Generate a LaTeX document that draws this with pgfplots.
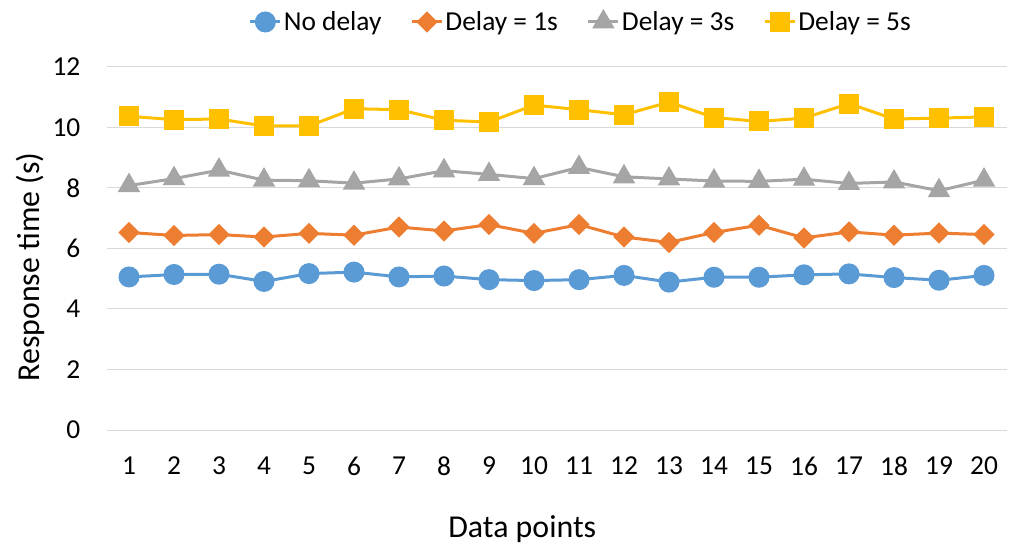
\documentclass[border=0pt]{standalone}
\usepackage{fontspec}
\setmainfont{Carlito}
\usepackage{pgfplots}
\pgfplotsset{compat=1.18}
\definecolor{cblue}{HTML}{5B9BD5}
\definecolor{corange}{HTML}{ED7D31}
\definecolor{cgray}{HTML}{A5A5A5}
\definecolor{cyellow}{HTML}{FFC000}
\definecolor{gridc}{HTML}{D9D9D9}
\begin{document}
\begin{tikzpicture}
\useasboundingbox (0,0) rectangle (1011bp,544bp);
\begin{axis}[
  at={(106.5bp,114bp)}, anchor=south west,
  scale only axis, width=900bp, height=363bp,
  xmin=0.5, xmax=20.5, ymin=0, ymax=12,
  xtick={1,...,20}, ytick={0,2,...,12},
  ymajorgrids, grid style={draw=gridc, line width=1bp},
  axis line style={draw=none}, tick style={draw=none},
  /pgf/number format/assume math mode=true,
  tick label style={font=\fontsize{27.5}{30}\selectfont, inner sep=0pt},
  yticklabel style={anchor=east, xshift=-26bp},
  xticklabel style={anchor=north, yshift=-27bp},
  label style={font=\fontsize{32}{36}\selectfont},
  xlabel={Data points},
  ylabel={Response time (s)},
  xlabel style={at={(axis description cs:0.462,-0.295)}, anchor=base},
  ylabel style={at={(axis description cs:-0.085,0.449)}, anchor=center},
  every axis plot/.append style={line width=3bp},
  legend columns=4,
  legend style={at={(axis description cs:0.527,1.124)}, anchor=center,
    draw=none, fill=none, font=\fontsize{27.5}{30}\selectfont,
    /tikz/every even column/.append style={column sep=27bp}},
  legend image code/.code={\draw[mark repeat=2,mark phase=2,#1] plot coordinates {(0bp,0bp) (15bp,0bp) (30bp,0bp)};},
]
\addplot[color=cblue, mark=*, mark size=9bp, mark options={draw=none, fill=cblue}] coordinates {
(1,5.06) (2,5.14) (3,5.15) (4,4.91) (5,5.17) (6,5.22) (7,5.06) (8,5.09) (9,4.97) (10,4.94)
(11,4.97) (12,5.11) (13,4.89) (14,5.05) (15,5.05) (16,5.13) (17,5.16) (18,5.04) (19,4.95) (20,5.11)};
\addlegendentry{No delay}
\addplot[color=corange, mark=square*, mark size=6bp, mark options={draw=none, fill=corange, rotate=45}] coordinates {
(1,6.53) (2,6.43) (3,6.46) (4,6.38) (5,6.50) (6,6.44) (7,6.71) (8,6.58) (9,6.79) (10,6.50)
(11,6.79) (12,6.38) (13,6.20) (14,6.53) (15,6.77) (16,6.35) (17,6.55) (18,6.44) (19,6.51) (20,6.46)};
\addlegendentry{Delay = 1s}
\addplot[color=cgray, mark=triangle*, mark size=10bp, mark options={draw=none, fill=cgray}] coordinates {
(1,8.08) (2,8.31) (3,8.59) (4,8.26) (5,8.24) (6,8.16) (7,8.30) (8,8.57) (9,8.45) (10,8.31)
(11,8.68) (12,8.37) (13,8.30) (14,8.23) (15,8.22) (16,8.29) (17,8.15) (18,8.20) (19,7.91) (20,8.26)};
\addlegendentry{Delay = 3s}
\addplot[color=cyellow, mark=square*, mark size=8.5bp, mark options={draw=none, fill=cyellow}] coordinates {
(1,10.37) (2,10.26) (3,10.28) (4,10.05) (5,10.05) (6,10.62) (7,10.59) (8,10.24) (9,10.18) (10,10.74)
(11,10.59) (12,10.42) (13,10.84) (14,10.33) (15,10.20) (16,10.31) (17,10.79) (18,10.28) (19,10.31) (20,10.35)};
\addlegendentry{Delay = 5s}
\end{axis}
\end{tikzpicture}
\end{document}
